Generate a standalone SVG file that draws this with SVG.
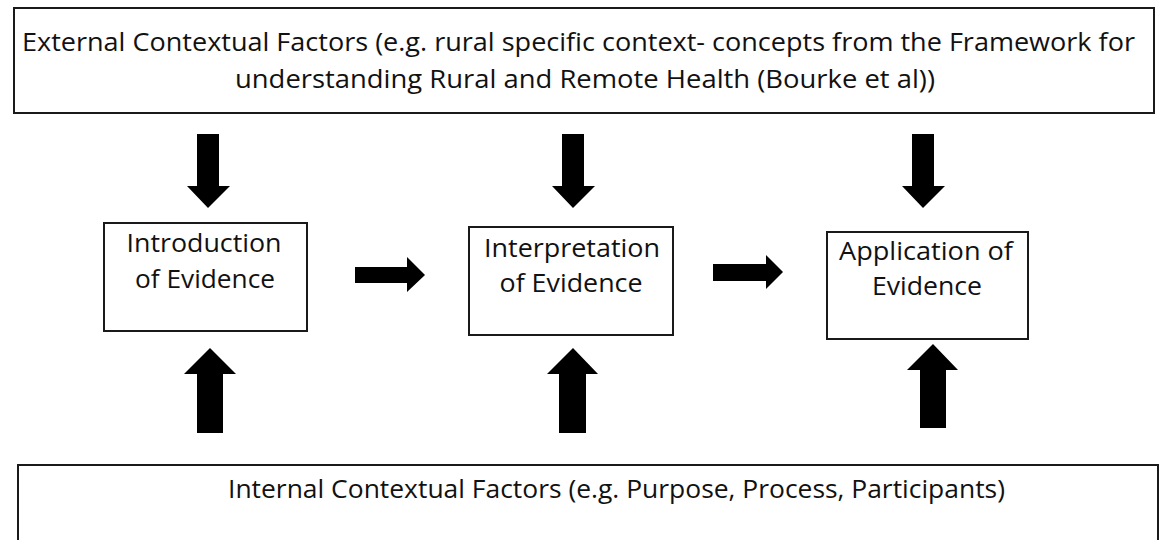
<svg xmlns="http://www.w3.org/2000/svg" width="1161" height="540" viewBox="0 0 1161 540">
<style>
.box{fill:#fff;stroke:#1a1a1a;stroke-width:2}
.big{font-family:"Open Sans","Noto Sans",sans-serif;font-size:26px;fill:#111}
.lbl{font-family:"Open Sans","Noto Sans",sans-serif;font-size:25px;fill:#111;text-anchor:middle}
.arr{fill:#000}
</style>
<rect width="1161" height="540" fill="#fff"/>
<g id="external">
<rect class="box" x="14" y="8" width="1140" height="105"/>
<text class="big" x="22" y="51" textLength="1113" lengthAdjust="spacingAndGlyphs">External Contextual Factors (e.g. rural specific context- concepts from the Framework for</text>
<text class="big" x="235" y="88" textLength="700" lengthAdjust="spacingAndGlyphs">understanding Rural and Remote Health (Bourke et al))</text>
</g>
<g id="internal">
<rect class="box" x="18" y="465" width="1140" height="90"/>
<text class="big" x="228" y="498" textLength="777" lengthAdjust="spacingAndGlyphs">Internal Contextual Factors (e.g. Purpose, Process, Participants)</text>
</g>
<g id="introduction">
<rect class="box" x="104" y="223" width="203" height="108"/>
<text class="lbl" x="204" y="252" textLength="155" lengthAdjust="spacingAndGlyphs">Introduction</text>
<text class="lbl" x="205" y="288" textLength="140" lengthAdjust="spacingAndGlyphs">of Evidence</text>
</g>
<g id="interpretation">
<rect class="box" x="469" y="227" width="204" height="108"/>
<text class="lbl" x="572" y="257" textLength="176" lengthAdjust="spacingAndGlyphs">Interpretation</text>
<text class="lbl" x="571" y="292" textLength="143" lengthAdjust="spacingAndGlyphs">of Evidence</text>
</g>
<g id="application">
<rect class="box" x="827" y="232" width="201" height="107"/>
<text class="lbl" x="926" y="260" textLength="174" lengthAdjust="spacingAndGlyphs">Application of</text>
<text class="lbl" x="927" y="295" textLength="110" lengthAdjust="spacingAndGlyphs">Evidence</text>
</g>
<g id="connectors">
<polygon class="arr" points="197,134 219,134 219,186 230,186 208,208 187,186 197,186"/>
<polygon class="arr" points="562,134 584,134 584,186 595,186 573,208 552,186 562,186"/>
<polygon class="arr" points="912,134 934,134 934,186 945,186 923,208 902,186 912,186"/>
<polygon class="arr" points="197,433 223,433 223,374 236,374 210,348 184,374 197,374"/>
<polygon class="arr" points="559,433 586,433 586,374 598,374 573,348 547,374 559,374"/>
<polygon class="arr" points="920,428 946,428 946,370 958,370 933,344 907,370 920,370"/>
<polygon class="arr" points="355,267 407,267 407,257 425,275 407,292 407,283 355,283"/>
<polygon class="arr" points="713,264 766,264 766,255 783,272 766,289 766,281 713,281"/>
</g>
</svg>
